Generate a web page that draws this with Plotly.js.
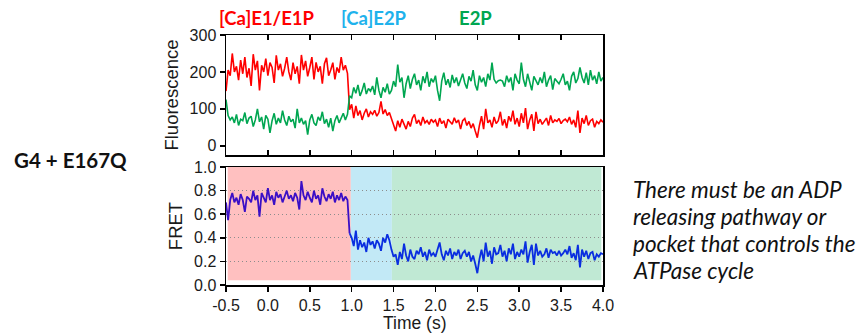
<!DOCTYPE html>
<html>
<head>
<meta charset="utf-8">
<script src="https://cdn.plot.ly/plotly-3.0.1.min.js"></script>
<style>
html,body{margin:0;padding:0;background:#fff;}
#chart{width:865px;height:334px;}
</style>
</head>
<body>
<div id="chart"></div>
<script>
// sampling grid (s)
const tStart = -0.5;
const tStep = 0.025;

// Fluorescence, [Ca]E1/E1P channel (red)
const fluorRed = [
148,205,190,250,200,215,178,232,195,240,
185,210,162,248,205,230,150,218,200,236,
190,225,212,170,245,205,222,188,210,240,
200,178,225,195,215,168,246,205,230,188,
212,240,180,226,200,215,168,222,238,190,
205,225,180,212,198,240,205,218,196,98,
112,75,108,82,95,70,88,100,78,92,
85,96,80,90,120,86,98,82,90,72,
55,40,68,50,72,58,45,66,52,75,
85,60,70,55,78,62,68,58,72,64,
70,52,75,60,68,48,72,65,58,76,
62,70,45,68,74,55,66,48,60,40,
22,55,80,45,100,62,70,50,78,60,
68,92,55,72,48,80,66,95,58,75,
52,88,62,102,45,70,85,40,92,60,
72,58,68,75,55,82,62,70,66,74,
60,68,72,65,78,58,70,50,95,35,
75,60,82,55,68,72,50,66,60,70,64
];

// Fluorescence, E2P channel (green)
const fluorGreen = [
125,82,70,78,62,85,55,72,68,90,
60,75,80,52,70,100,65,78,45,82,
72,35,68,88,58,75,62,95,70,55,
80,65,72,48,100,62,75,58,68,30,
70,85,62,55,78,68,92,60,72,50,
75,40,68,82,62,78,88,70,85,135,
130,158,142,165,135,150,170,140,155,148,
162,138,185,150,130,158,145,168,140,150,
175,160,220,172,185,130,168,190,155,180,
195,165,178,150,188,170,200,160,182,172,
190,150,122,175,198,165,180,158,192,170,
185,162,178,195,170,155,188,175,205,165,
150,190,172,185,160,195,178,225,180,170,
176,178,175,160,190,172,185,150,195,178,
168,225,180,160,195,172,150,188,176,165,
185,170,200,160,178,190,152,182,175,168,
180,195,165,175,150,188,200,170,182,212,
185,170,198,165,205,178,190,168,200,175,185
];

// FRET efficiency
const fret = [
0.70,0.55,0.72,0.78,0.70,0.74,0.68,0.77,0.72,0.62,
0.75,0.73,0.70,0.80,0.72,0.76,0.58,0.78,0.74,0.70,
0.82,0.72,0.76,0.68,0.79,0.74,0.77,0.70,0.75,0.80,
0.73,0.76,0.71,0.78,0.74,0.64,0.88,0.76,0.72,0.79,
0.74,0.70,0.80,0.73,0.76,0.68,0.82,0.75,0.71,0.77,
0.73,0.79,0.70,0.76,0.72,0.78,0.71,0.75,0.72,0.44,
0.40,0.33,0.46,0.30,0.38,0.32,0.36,0.28,0.40,0.34,
0.37,0.31,0.38,0.35,0.29,0.40,0.36,0.43,0.38,0.30,
0.24,0.26,0.17,0.28,0.22,0.35,0.25,0.20,0.30,0.24,
0.22,0.29,0.26,0.32,0.24,0.28,0.21,0.30,0.25,0.27,
0.24,0.30,0.36,0.26,0.21,0.29,0.25,0.31,0.22,0.28,
0.25,0.30,0.22,0.27,0.29,0.24,0.28,0.20,0.25,0.18,
0.10,0.22,0.30,0.20,0.36,0.24,0.29,0.18,0.32,0.26,
0.27,0.34,0.24,0.29,0.20,0.31,0.26,0.35,0.22,0.28,
0.24,0.30,0.26,0.37,0.19,0.28,0.34,0.17,0.35,0.25,
0.29,0.24,0.26,0.31,0.23,0.30,0.27,0.28,0.25,0.29,
0.25,0.27,0.30,0.26,0.33,0.23,0.27,0.21,0.34,0.15,
0.30,0.24,0.29,0.22,0.27,0.28,0.21,0.26,0.24,0.27,0.26
];

// index where the FRET trace switches colour (first state ends)
const fretSplit = 59;

// dwell states (shaded intervals)
const stateNames  = ['[Ca]E1/E1P', '[Ca]E2P', 'E2P'];
const stateStart  = [-0.48, 0.99, 1.48];
const stateEnd    = [0.99, 1.48, 3.98];
const stateFill   = ['#ffc0c0', '#c2e9f6', '#c0e9d4'];
const stateColor  = ['#ff0000', '#1fb2ec', '#00a651'];

// axis ticks
const xTickVals = [-0.5,0,0.5,1,1.5,2,2.5,3,3.5,4];
const xTickText = ['-0.5','0.0','0.5','1.0','1.5','2.0','2.5','3.0','3.5','4.0'];
const fluorTickVals = [0,100,200,300];
const fretTickVals = [0,0.2,0.4,0.6,0.8,1.0];
const fretTickText = ['0.0','0.2','0.4','0.6','0.8','1.0'];

const time = fluorRed.map((_, i) => +(tStart + i * tStep).toFixed(3));

const axFont = {family: '"Liberation Sans", Arial, sans-serif', size: 16, color: '#1a1a1a'};
const titleFont = {family: '"Liberation Sans", Arial, sans-serif', size: 18.5, color: '#1a1a1a'};

const traces = [
  {x: time, y: fluorRed, xaxis: 'x2', yaxis: 'y2', mode: 'lines', line: {color: '#ff0000', width: 1.6}, hoverinfo: 'skip'},
  {x: time, y: fluorGreen, xaxis: 'x2', yaxis: 'y2', mode: 'lines', line: {color: '#00a651', width: 1.6}, hoverinfo: 'skip'},
  {x: time.slice(0, fretSplit + 1), y: fret.slice(0, fretSplit + 1), xaxis: 'x', yaxis: 'y', mode: 'lines', line: {color: '#3a0fc6', width: 1.8}, hoverinfo: 'skip'},
  {x: time.slice(fretSplit), y: fret.slice(fretSplit), xaxis: 'x', yaxis: 'y', mode: 'lines', line: {color: '#0a2ee0', width: 1.8}, hoverinfo: 'skip'}
];

const shapes = stateStart.map((s, i) => ({
  type: 'rect', xref: 'x', yref: 'y', x0: s, x1: stateEnd[i], y0: 0.04, y1: 1.0,
  fillcolor: stateFill[i], line: {width: 0}, layer: 'below'
}));

const plotL = 226, plotR = 603, plotT = 35, plotB = 285;
const W = plotR - plotL, H = plotB - plotT;
const px = x => (x - plotL) / W;
const py = y => (plotB - y) / H;

const calibri = '"Lato", "Open Sans", sans-serif';
const annotations = [];
const labelX = [267, 374, 475];
stateNames.forEach((n, i) => annotations.push({
  text: '<b>' + n + '</b>', xref: 'paper', yref: 'paper', x: px(labelX[i]), y: py(18),
  xanchor: 'center', yanchor: 'middle', showarrow: false,
  font: {family: calibri, size: 18.5, color: stateColor[i]}
}));
annotations.push({
  text: '<b>G4 + E167Q</b>', xref: 'paper', yref: 'paper', x: px(12), y: py(160),
  xanchor: 'left', yanchor: 'middle', showarrow: false,
  font: {family: calibri, size: 20.5, color: '#111'}
});
const noteLines = ['There must be an ADP', 'releasing pathway or', 'pocket that controls the', 'ATPase cycle'];
const noteY = [189, 216, 243, 270];
noteLines.forEach((l, i) => annotations.push({
  text: '<i>' + l + '</i>', xref: 'paper', yref: 'paper', x: px(631), y: py(noteY[i]),
  xanchor: 'left', yanchor: 'middle', showarrow: false,
  font: {family: calibri, size: 22.5, color: '#111'}
}));
// x axis title (placed below the tick labels, as in the source figure)
annotations.push({
  text: 'Time (s)', xref: 'paper', yref: 'paper', x: px(415), y: py(323),
  xanchor: 'center', yanchor: 'middle', showarrow: false,
  font: {family: titleFont.family, size: 17.5, color: titleFont.color}
});

const baseAxis = {
  showline: true, linecolor: '#000', linewidth: 1.5, mirror: true,
  zeroline: false, showgrid: false, ticklen: 5, tickwidth: 1.5, tickcolor: '#000',
  tickfont: axFont
};
const topDom = [py(155), 1];
const botDom = [0, py(167)];
const fluorRange = [-25, 300];

const layout = {
  width: 865, height: 334,
  margin: {l: plotL, r: 865 - plotR, t: plotT, b: 334 - plotB},
  paper_bgcolor: '#fff', plot_bgcolor: '#fff',
  showlegend: false,
  shapes: shapes,
  annotations: annotations,
  xaxis: Object.assign({}, baseAxis, {
    domain: [0, 1], anchor: 'y', range: [-0.5, 4.0], ticks: 'outside',
    tickvals: xTickVals, ticktext: xTickText
  }),
  xaxis3: {
    overlaying: 'x', side: 'top', anchor: 'y', range: [-0.5, 4.0], ticks: 'inside',
    ticklen: 5, tickwidth: 1.5, tickcolor: '#000', tickvals: xTickVals, showticklabels: false,
    showline: false, showgrid: false, zeroline: false
  },
  yaxis: Object.assign({}, baseAxis, {
    domain: botDom, anchor: 'x', range: [0, 1], ticks: 'outside',
    tickvals: fretTickVals, ticktext: fretTickText,
    showgrid: true, gridcolor: '#8c8c8c', griddash: '1px,3px', gridwidth: 1,
    title: {text: 'FRET', font: titleFont, standoff: 6}
  }),
  yaxis3: {
    overlaying: 'y', side: 'right', anchor: 'x', range: [0, 1], ticks: 'inside',
    ticklen: 5, tickwidth: 1.5, tickcolor: '#000', tickvals: fretTickVals, showticklabels: false,
    showline: false, showgrid: false, zeroline: false
  },
  xaxis2: Object.assign({}, baseAxis, {
    domain: [0, 1], anchor: 'y2', range: [-0.5, 4.0], ticks: 'inside', mirror: 'allticks',
    tickvals: xTickVals, showticklabels: false
  }),
  yaxis2: Object.assign({}, baseAxis, {
    domain: topDom, anchor: 'x2', range: fluorRange, ticks: 'outside',
    tickvals: fluorTickVals,
    title: {text: 'Fluorescence', font: titleFont, standoff: 6}
  }),
  yaxis4: {
    overlaying: 'y2', side: 'right', anchor: 'x2', range: fluorRange, ticks: 'inside',
    ticklen: 5, tickwidth: 1.5, tickcolor: '#000', tickvals: fluorTickVals, showticklabels: false,
    showline: false, showgrid: false, zeroline: false
  }
};

Plotly.newPlot('chart', traces, layout, {staticPlot: true, displayModeBar: false});
</script>
</body>
</html>
